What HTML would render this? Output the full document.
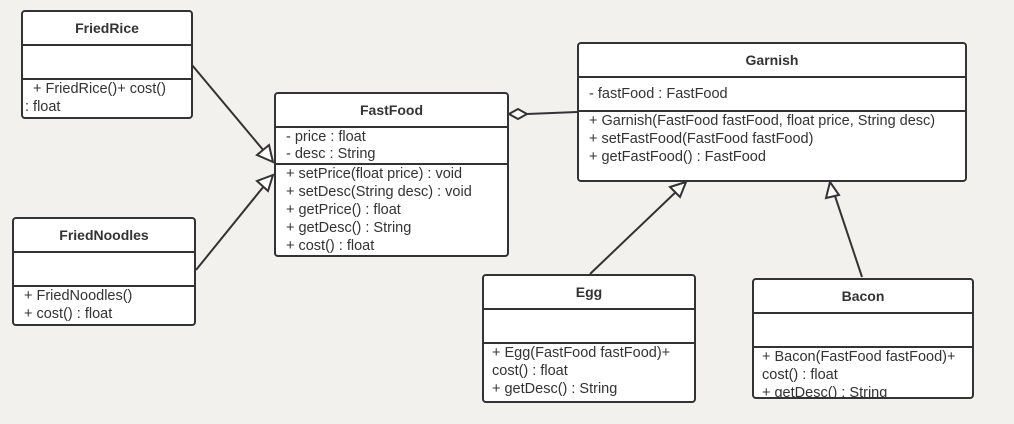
<!DOCTYPE html>
<html><head><meta charset="utf-8"><style>
body{margin:0;width:1014px;height:424px;background:#f2f1ee;position:relative;overflow:hidden;font-family:"Liberation Sans",sans-serif;color:#333;}
.c{position:absolute;background:#fff;border:2px solid #333;border-radius:4px;box-sizing:border-box;overflow:hidden}
.h{font-weight:bold;font-size:14px;text-align:center;border-bottom:2px solid #333;box-sizing:border-box}
.a{border-bottom:2px solid #333;box-sizing:border-box;font-size:14.5px;padding-left:10px;line-height:18px}
.m{font-size:14.5px;padding-left:10px;line-height:18px;white-space:nowrap}
svg{position:absolute;left:0;top:0}
</style></head><body>
<div class="c" style="left:21px;top:10px;width:172px;height:109px">
<div class="h" style="height:34px;line-height:32px">FriedRice</div>
<div class="a" style="height:34px"></div>
<div class="m" style="padding-left:10px;line-height:18px">+ FriedRice()+ cost()<br><span style="margin-left:-8px">: float</span></div>
</div>
<div class="c" style="left:12px;top:217px;width:184px;height:109px">
<div class="h" style="height:34px;line-height:32px">FriedNoodles</div>
<div class="a" style="height:34px"></div>
<div class="m">+ FriedNoodles()<br>+ cost() : float</div>
</div>
<div class="c" style="left:274px;top:92px;width:235px;height:165px">
<div class="h" style="height:34px;line-height:32px">FastFood</div>
<div class="a" style="height:37px;line-height:17px;padding-top:1px">- price : float<br>- desc : String</div>
<div class="m">+ setPrice(float price) : void<br>+ setDesc(String desc) : void<br>+ getPrice() : float<br>+ getDesc() : String<br>+ cost() : float</div>
</div>
<div class="c" style="left:577px;top:42px;width:390px;height:140px">
<div class="h" style="height:34px;line-height:32px">Garnish</div>
<div class="a" style="height:34px;line-height:32px">- fastFood : FastFood</div>
<div class="m">+ Garnish(FastFood fastFood, float price, String desc)<br>+ setFastFood(FastFood fastFood)<br>+ getFastFood() : FastFood</div>
</div>
<div class="c" style="left:482px;top:274px;width:214px;height:129px">
<div class="h" style="height:34px;line-height:32px">Egg</div>
<div class="a" style="height:34px"></div>
<div class="m" style="padding-left:8px">+ Egg(FastFood fastFood)+<br>cost() : float<br>+ getDesc() : String</div>
</div>
<div class="c" style="left:752px;top:278px;width:222px;height:121px">
<div class="h" style="height:34px;line-height:32px">Bacon</div>
<div class="a" style="height:34px"></div>
<div class="m" style="padding-left:8px">+ Bacon(FastFood fastFood)+<br>cost() : float<br>+ getDesc() : String</div>
</div>
<svg width="1014" height="424" viewBox="0 0 1014 424">
<g stroke="#333" stroke-width="2" fill="#fff">
<line x1="192" y1="65" x2="264" y2="151"/>
<polygon points="273,162 257,155 269,145"/>
<line x1="196" y1="270" x2="264" y2="186"/>
<polygon points="273,175 268,191 257,181"/>
<line x1="527" y1="114" x2="577" y2="112"/>
<polygon points="509,114 518,109 527,114 518,119"/>
<line x1="590" y1="274" x2="680" y2="188"/>
<polygon points="686,182 680,197 670,187"/>
<line x1="862" y1="277" x2="835" y2="196"/>
<polygon points="830,182 839,195 826,198"/>
</g>
</svg>
</body></html>
